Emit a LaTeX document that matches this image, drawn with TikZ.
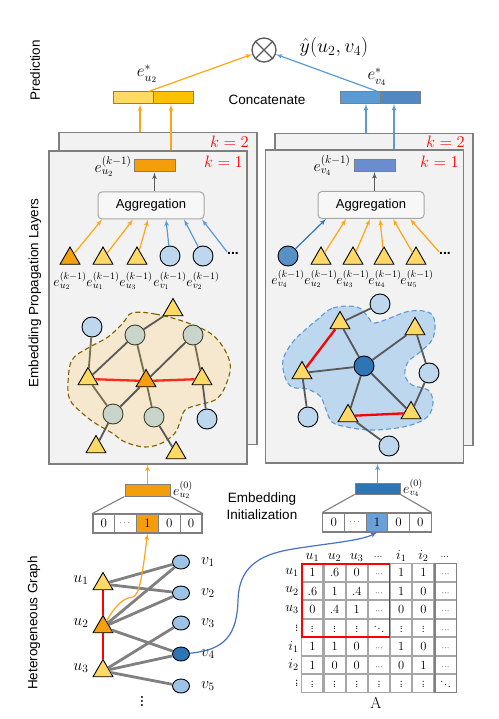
\RequirePackage{fix-cm}
\documentclass[tikz,border=0pt]{standalone}
\usepackage{amsmath}
\usepackage{fontspec}
\setsansfont{Liberation Sans}
\usetikzlibrary{arrows}
\usetikzlibrary{shapes.geometric}
\usetikzlibrary{matrix}

\definecolor{frameg}{HTML}{F2F2F2}
\definecolor{framec}{HTML}{7F7F7F}
\definecolor{aggf}{HTML}{F7F7F7}
\definecolor{aggc}{HTML}{A6A6A6}
\definecolor{triy}{HTML}{FFD966}
\definecolor{trio}{HTML}{F5A00F}
\definecolor{cblue}{HTML}{BDD7EE}
\definecolor{vblue}{HTML}{9DC3E6}
\definecolor{dblue}{HTML}{2E75B6}
\definecolor{cgreen}{HTML}{C9D4CA}
\definecolor{cgreenc}{HTML}{3F3F2F}
\definecolor{oline}{HTML}{FFA514}
\definecolor{bline}{HTML}{5B9BD5}
\definecolor{edgec}{HTML}{595959}
\definecolor{oedgec}{HTML}{77704F}
\definecolor{beige}{HTML}{F5E8CE}
\definecolor{brownc}{HTML}{7F6000}
\definecolor{redc}{HTML}{FF2A1A}
\definecolor{cy1}{HTML}{FFD966}
\definecolor{cy2}{HTML}{FFC000}
\definecolor{cb1}{HTML}{5B9BD5}
\definecolor{cb2}{HTML}{4F88C2}
\definecolor{hu}{HTML}{F59E0B}
\definecolor{hv}{HTML}{6A8DCE}
\definecolor{ohv}{HTML}{6A9FD8}
\definecolor{curveb}{HTML}{4472C4}

\newcommand{\mvd}{\vbox{\baselineskip2.6pt\lineskiplimit0pt\hbox{.}\hbox{.}\hbox{.}}}
\newcommand{\mdd}{\raisebox{5pt}{.}\kern0.4pt\raisebox{2.5pt}{.}\kern0.4pt\raisebox{0pt}{.}}

\begin{document}
\begin{tikzpicture}[x=1pt,y=-1pt]
\tikzset{layer/.style = {draw=framec, fill=frameg, line width=1.2pt, minimum width=198pt, minimum height=312pt, inner sep=0pt}}
\tikzset{agg/.style = {draw=aggc, fill=aggf, rounded corners=4pt, line width=1pt, minimum width=106pt, minimum height=27pt, font=\sffamily\fontsize{13}{15}\selectfont}}
\tikzset{bar/.style = {draw=framec, line width=1pt, minimum width=41pt, minimum height=12pt, inner sep=0pt}}
\tikzset{tri/.style = {regular polygon, regular polygon sides=3, draw=black, line width=0.9pt, fill=triy, minimum size=23pt, inner sep=0pt}}
\tikzset{circ/.style = {circle, draw=black, line width=0.9pt, fill=cblue, minimum size=20pt, inner sep=0pt}}
\tikzset{gcirc/.style = {circ, draw=cgreenc, fill=cgreen}}
\tikzset{vnode/.style = {ellipse, draw=black, line width=0.9pt, fill=vblue, minimum width=17pt, minimum height=14pt, inner sep=0pt}}
\tikzset{cell/.style = {draw=framec, fill=white, line width=1.1pt, minimum width=21.8pt, minimum height=19pt, inner sep=0pt, font=\fontsize{13}{15}\selectfont}}
\tikzset{mcell/.style = {draw=gray!70, fill=white, line width=1.1pt, minimum width=21.1pt, minimum height=17.4pt, text height=8.5pt, text depth=0pt, inner sep=0pt, outer sep=0pt, font=\fontsize{12.5}{14}\selectfont}}
\tikzset{txt/.style = {font=\sffamily\fontsize{13.5}{17}\selectfont, align=center}}
\tikzset{elab/.style = {inner sep=0pt, font=\fontsize{16}{18}\selectfont}}
\tikzset{slab/.style = {inner sep=0pt, font=\fontsize{14}{16}\selectfont}}
\tikzset{blab/.style = {inner sep=0pt, font=\fontsize{16}{18}\selectfont}}
\tikzset{klab/.style = {text=red, inner sep=0pt, font=\fontsize{16.5}{18}\selectfont}}
\tikzset{dotsn/.style = {inner sep=0pt, font=\sffamily\bfseries\fontsize{14}{14}\selectfont}}
\tikzset{oarr/.style = {->, >=latex', draw=oline, line width=1.2pt}}
\tikzset{barr/.style = {->, >=latex', draw=bline, line width=1.2pt}}
\tikzset{garr/.style = {->, >=latex', draw=edgec, line width=1.2pt}}
\tikzset{edge/.style = {draw=edgec, line width=1.8pt}}
\tikzset{oedge/.style = {draw=oedgec, line width=1.8pt}}
\tikzset{redge/.style = {draw=redc, line width=2.3pt}}
\tikzset{bedge/.style = {draw=gray, line width=2.8pt}}
\useasboundingbox (0,0) rectangle (498,719);

\node[txt, rotate=90] (pred) at (35,70) {Prediction};
\node[txt, rotate=90] (epl) at (35,293) {Embedding Propagation Layers};
\node[txt, rotate=90] (hg) at (34,623) {Heterogeneous Graph};

% prediction
\node[circle, draw=edgec, line width=1.3pt, minimum size=24pt] (otimes) at (264,50) {};
\draw[edgec, line width=1.3pt] (otimes.45) -- (otimes.225) (otimes.135) -- (otimes.315);
\node[inner sep=0pt, font=\fontsize{20}{22}\selectfont] (yhat) at (334,48) {$\hat{y}(u_2,v_4)$};
\node[bar, minimum width=40pt, fill=cy1] (cu1) at (133,98) {};
\node[bar, minimum width=40pt, fill=cy2] (cu2) at (173,98) {};
\node[bar, minimum width=40pt, fill=cb1] (cv1) at (360,97.5) {};
\node[bar, minimum width=40pt, fill=cb2] (cv2) at (400,97.5) {};
\node[elab, font=\fontsize{17}{19}\selectfont] (estu) at (147,74) {$e^{*}_{u_2}$};
\node[elab, font=\fontsize{17}{19}\selectfont] (estv) at (377,77) {$e^{*}_{v_4}$};
\node[txt] (concat) at (267,100) {Concatenate};
\draw[oarr] ([xshift=-5pt]cu1.north east) -- (otimes);
\draw[barr] ([xshift=-4pt]cv1.north east) -- (otimes);

% layers
\node[layer] (L2) at (158,288.5) {};
\node[layer, minimum height=313pt] (L1) at (148,307.5) {};
\node[layer] (R2) at (374,289.5) {};
\node[layer, minimum height=313pt] (R1) at (364.5,306.5) {};
\node[klab, anchor=east] (k2l) at (249,142) {$k=2$};
\node[klab, anchor=east] (k1l) at (243,162) {$k=1$};
\node[klab, anchor=east] (k2r) at (465,142) {$k=2$};
\node[klab, anchor=east] (k1r) at (459,162) {$k=1$};
\draw[oarr] ([xshift=-18pt]L2.north) -- ([xshift=7pt]cu1.south);
\draw[oarr] ([xshift=23pt]L1.north) -- ([xshift=-2pt]cu2.south);
\draw[barr] ([xshift=-8pt]R2.north) -- ([xshift=6pt]cv1.south);
\draw[barr] ([xshift=29.5pt]R1.north) -- ([xshift=-6pt]cv2.south);

% left aggregation
\node[agg] (agg1) at (151,205.5) {Aggregation};
\node[bar, fill=hu] (hu) at (154.5,166) {};
\node[elab] (hul) at (113,166) {$e^{(k-1)}_{u_2}$};
\draw[garr] (agg1.north -| hu.south) -- (hu.south);
\node[tri, fill=trio] (nu2) at (70,258.5) {};
\node[tri] (nu1) at (103,258.5) {};
\node[tri] (nu3) at (137,258.5) {};
\node[circ] (nv1) at (170,256) {};
\node[circ] (nv2) at (203,256) {};
\node[dotsn] (nd) at (233,253) {...};
\node[slab] (lnu2) at (70,281) {$e^{(k-1)}_{u_2}$};
\node[slab] (lnu1) at (103,281) {$e^{(k-1)}_{u_1}$};
\node[slab] (lnu3) at (136,281) {$e^{(k-1)}_{u_3}$};
\node[slab] (lnv1) at (170,281) {$e^{(k-1)}_{v_1}$};
\node[slab] (lnv2) at (203,281) {$e^{(k-1)}_{v_2}$};
\draw[oarr] (nu2) -- ([xshift=-49pt]agg1.south);
\draw[oarr] (nu1) -- ([xshift=-18pt]agg1.south);
\draw[oarr] (nu3) -- ([xshift=-3pt]agg1.south);
\draw[barr] (nv1) -- ([xshift=15pt]agg1.south);
\draw[barr] (nv2) -- ([xshift=33pt]agg1.south);
\draw[barr] (nd.north west) -- ([xshift=51pt]agg1.south);

% right aggregation
\node[agg] (agg2) at (371,205) {Aggregation};
\node[bar, fill=hv] (hv) at (374.5,165.5) {};
\node[elab] (hvl) at (332,165) {$e^{(k-1)}_{v_4}$};
\draw[garr] (agg2.north -| hv.south) -- (hv.south);
\node[circ, fill=dblue!80] (mv4) at (288,256) {};
\node[tri] (mu2) at (321,258.5) {};
\node[tri] (mu3) at (353,258.5) {};
\node[tri] (mu4) at (384,258.5) {};
\node[tri] (mu5) at (416,258.5) {};
\node[dotsn] (md) at (445,253) {...};
\node[slab] (lmv4) at (288,279) {$e^{(k-1)}_{v_4}$};
\node[slab] (lmu2) at (321,279) {$e^{(k-1)}_{u_2}$};
\node[slab] (lmu3) at (353,279) {$e^{(k-1)}_{u_3}$};
\node[slab] (lmu4) at (385,279) {$e^{(k-1)}_{u_4}$};
\node[slab] (lmu5) at (417,279) {$e^{(k-1)}_{u_5}$};
\draw[->, >=latex', draw=dblue, line width=1.2pt] (mv4) -- ([xshift=-45pt]agg2.south);
\draw[oarr] (mu2) -- ([xshift=-25pt]agg2.south);
\draw[oarr] (mu3) -- ([xshift=-1pt]agg2.south);
\draw[oarr] (mu4) -- ([xshift=9pt]agg2.south);
\draw[oarr] (mu5) -- ([xshift=22pt]agg2.south);
\draw[oarr] (md.north west) -- ([xshift=39pt]agg2.south);

% left subgraph
\draw[brownc, dash pattern=on 5pt off 3pt, line width=1.1pt, fill=beige] plot[smooth cycle, tension=0.6] coordinates {(132,313) (155,314) (188,323) (215,337) (230,363) (225,387) (215,400) (198,405) (185,410) (180,422) (175,433) (162,443) (145,447) (125,442) (112,433) (95,423) (82,413) (70,400) (68,383) (72,360) (88,348) (108,337) (123,323)};
\node[tri] (ta) at (173,310) {};
\node[circ] (ca) at (92,327) {};
\node[gcirc] (ga) at (135,335) {};
\node[gcirc] (gb) at (193,335) {};
\node[tri] (tb) at (88,379) {};
\node[tri, fill=trio] (tc) at (146,381) {};
\node[tri] (td) at (202,379) {};
\node[gcirc] (gc) at (113,414) {};
\node[gcirc] (gd) at (154,417) {};
\node[circ] (cb) at (207,419) {};
\node[tri] (te) at (96,447) {};
\node[tri] (tf) at (176,453) {};
\draw[edge] (ta) -- (ga);
\draw[edge] (ga) -- (tb);
\draw[oedge] (ca) -- (tb);
\draw[oedge] (ga) -- (tc);
\draw[edge] (gb) -- (tc);
\draw[edge] (tc) -- (gc);
\draw[oedge] (gb) -- (td);
\draw[oedge] (tb) -- (gc);
\draw[oedge] (tc) -- (gd);
\draw[edge] (td) -- (cb);
\draw[edge] (gc) -- (te);
\draw[edge] (gd) -- (tf);
\draw[redge] (tb) -- (tc);
\draw[redge] (tc) -- (td);

% right subgraph
\draw[bline, dash pattern=on 5pt off 3pt, line width=1.1pt, fill=cblue] plot[smooth cycle, tension=0.6] coordinates {(317,320) (333,308) (357,307) (368,317) (373,323) (385,320) (410,311) (430,313) (435,325) (432,340) (420,352) (408,362) (405,375) (412,385) (428,390) (433,402) (429,415) (417,423) (397,428) (370,430) (347,427) (332,422) (325,407) (320,396) (307,389) (292,387) (285,377) (283,360) (292,343) (305,330)};
\node[circ] (rc1) at (380,304) {};
\node[tri] (ra) at (340,323) {};
\node[tri] (rb) at (415,329) {};
\node[tri] (rt3) at (302,373) {};
\node[circ, fill=dblue] (hub) at (364,366) {};
\node[circ] (rc2) at (429,373) {};
\node[tri] (rt4) at (348,416) {};
\node[tri] (rt5) at (411,413) {};
\node[circ] (rc3) at (308,417) {};
\node[circ] (rc4) at (389,446) {};
\draw[edge] (ra) -- (rc1);
\draw[edge] (ra) -- (hub);
\draw[edge] (rt3) -- (hub);
\draw[edge] (rb) -- (hub);
\draw[edge] (rb) -- (rc2);
\draw[edge] (rc2) -- (rt5);
\draw[edge] (hub) -- (rt4);
\draw[edge] (hub) -- (rt5);
\draw[edge] (rt3) -- (rc3);
\draw[edge] (rt4) -- (rc4);
\draw[redge, draw=red] (ra) -- (rt3);
\draw[redge, draw=red] (rt4) -- (rt5);

% initialization
\node[bar, minimum width=45pt, fill=hu] (b0u) at (147.5,490) {};
\node[bar, minimum width=45pt, minimum height=11pt, fill=dblue] (b0v) at (377.5,488.5) {};
\node[elab, font=\fontsize{14}{16}\selectfont, anchor=west] (l0u) at (173,490) {$e^{(0)}_{u_2}$};
\node[elab, font=\fontsize{14}{16}\selectfont, anchor=west] (l0v) at (403,488) {$e^{(0)}_{v_4}$};
\draw[oarr] (b0u.north) -- (b0u.north |- L1.south);
\draw[barr] (b0v.north) -- (b0v.north |- R1.south);
\node[txt] (einit) at (262,506) {Embedding\\Initialization};
\node[cell] (ohu1) at (103.9,523.5) {0};
\node[cell] (ohu2) at (125.7,523.5) {\small$\cdots$};
\node[cell, fill=hu] (ohu3) at (147.5,523.5) {1};
\node[cell] (ohu4) at (169.3,523.5) {0};
\node[cell] (ohu5) at (191.1,523.5) {0};
\node[cell] (ohv1) at (333.8,522.5) {0};
\node[cell] (ohv2) at (355.4,522.5) {\small$\cdots$};
\node[cell, fill=ohv] (ohv3) at (377,522.5) {1};
\node[cell] (ohv4) at (398.6,522.5) {0};
\node[cell] (ohv5) at (420.2,522.5) {0};
\draw[framec, line width=1.1pt] (b0u.south west) -- (ohu1.north west) (b0u.south east) -- (ohu5.north east);
\draw[framec, line width=1.1pt] (b0v.south west) -- (ohv1.north west) (b0v.south east) -- (ohv5.north east);

% heterogeneous graph
\node[tri] (u1) at (103,584) {};
\node[tri, fill=trio] (u2) at (103,627) {};
\node[tri] (u3) at (103,671) {};
\node[vnode] (v1) at (181,562) {};
\node[vnode] (v2) at (181,593) {};
\node[vnode] (v3) at (181,623) {};
\node[vnode, fill=dblue] (v4) at (181,654) {};
\node[vnode] (v5) at (181,686) {};
\draw[bedge] (u1) -- (v1);
\draw[bedge] (u1) -- (v2);
\draw[bedge] (u2) -- (v1);
\draw[bedge] (u2) -- (v2);
\draw[bedge] (u2) -- (v4);
\draw[bedge] (u3) -- (v3);
\draw[bedge] (u3) -- (v4);
\draw[bedge] (u3) -- (v5);
\draw[redge, draw=red, line width=2.8pt] (u1) -- (u2);
\draw[redge, draw=red, line width=2.8pt] (u2) -- (u3);
\node[blab] (lu1) at (81,580) {$u_1$};
\node[blab] (lu2) at (81,623) {$u_2$};
\node[blab] (lu3) at (81,668) {$u_3$};
\node[blab] (lv1) at (208,562) {$v_1$};
\node[blab] (lv2) at (208,593) {$v_2$};
\node[blab] (lv3) at (208,623) {$v_3$};
\node[blab] (lv4) at (208,654) {$v_4$};
\node[blab] (lv5) at (208,686) {$v_5$};
\node[blab, font=\bfseries\fontsize{14}{16}\selectfont] (vd) at (142,698) {$\vdots$};
\draw[oarr] (u2) .. controls (117,603) and (124,598) .. (133,597) .. controls (140,595) and (143,570) .. (ohu3.south);
\draw[->, >=latex', draw=curveb, line width=1.2pt] (v4) .. controls (225,650) and (237,635) .. (238,600) .. controls (239,570) and (255,555) .. (293,549) .. controls (330,543) and (360,541) .. (ohv3.south);

% adjacency matrix
\matrix (A) [matrix of math nodes, nodes={mcell}, column sep=0pt, row sep=0pt] at (379,628) {
1 & .6 & 0 & \scriptstyle\cdots & 1 & 1 & \scriptstyle\cdots \\
.6 & 1 & .4 & \scriptstyle\cdots & 1 & 0 & \scriptstyle\cdots \\
0 & .4 & 1 & \scriptstyle\cdots & 0 & 0 & \scriptstyle\cdots \\
\mvd & \mvd & \mvd & \mdd & \mvd & \mvd & \scriptstyle\cdots \\
1 & 1 & 0 & \scriptstyle\cdots & 1 & 0 & \scriptstyle\cdots \\
1 & 0 & 0 & \scriptstyle\cdots & 0 & 1 & \scriptstyle\cdots \\
\mvd & \mvd & \mvd & \mvd & \mvd & \mvd & \mdd \\
};
\draw[gray, line width=1.3pt] (A-1-7.north west) rectangle (A-7-7.south east);
\draw[red, line width=1.8pt] (A-1-1.north west) rectangle (A-4-4.south east);
\foreach \j/\t in {1/u_1,2/u_2,3/u_3,4/\scriptstyle\cdots,5/i_1,6/i_2,7/\scriptstyle\cdots}
  \node[slab, anchor=base, font=\fontsize{14}{16}\selectfont] (col\j) at ([yshift=4pt]A-1-\j.north) {$\t$};
\foreach \i/\t in {1/u_1,2/u_2,3/u_3,4/\mvd,5/i_1,6/i_2,7/\mvd}
  \node[slab, anchor=east, font=\fontsize{14}{16}\selectfont] (row\i) at ([xshift=-3pt]A-\i-1.west) {$\t$};
\node[inner sep=0pt, font=\fontsize{16}{18}\selectfont] (Alab) at (376,703) {A};
\end{tikzpicture}
\end{document}
